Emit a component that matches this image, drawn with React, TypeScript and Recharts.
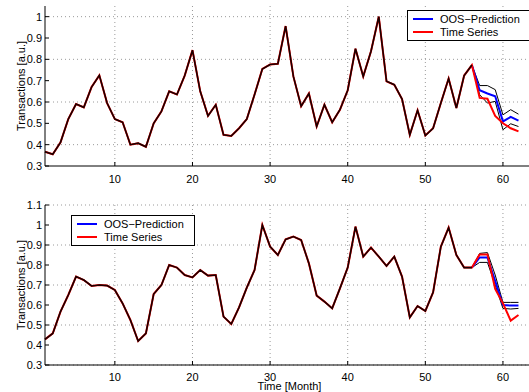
import { CartesianGrid, Legend, Line, LineChart, XAxis, YAxis } from "recharts";

const months = [
	1, 2, 3, 4, 5, 6, 7, 8, 9, 10, 11, 12, 13, 14, 15, 16, 17, 18, 19, 20, 21,
	22, 23, 24, 25, 26, 27, 28, 29, 30, 31, 32, 33, 34, 35, 36, 37, 38, 39, 40,
	41, 42, 43, 44, 45, 46, 47, 48, 49, 50, 51, 52, 53, 54, 55, 56, 57, 58, 59,
	60, 61, 62,
];
const predMonths = [56, 57, 58, 59, 60, 61, 62];
const lastFitMonth = 56;

const xTicks = [10, 20, 30, 40, 50, 60];
const topYTicks = [0.3, 0.4, 0.5, 0.6, 0.7, 0.8, 0.9, 1];
const bottomYTicks = [0.3, 0.4, 0.5, 0.6, 0.7, 0.8, 0.9, 1, 1.1];

// upper panel
const topSeries = [
	0.367, 0.355, 0.411, 0.52, 0.59, 0.575, 0.67, 0.725, 0.595, 0.52, 0.505,
	0.4, 0.407, 0.39, 0.5, 0.556, 0.65, 0.635, 0.724, 0.843, 0.65, 0.535, 0.587,
	0.446, 0.441, 0.477, 0.52, 0.635, 0.755, 0.776, 0.779, 0.956, 0.72, 0.58,
	0.64, 0.485, 0.587, 0.505, 0.564, 0.655, 0.85, 0.72, 0.838, 1.0, 0.697,
	0.681, 0.614, 0.446, 0.561, 0.443, 0.477, 0.595, 0.71, 0.572, 0.724, 0.773,
	0.619, 0.615, 0.535, 0.5, 0.477, 0.462,
];
const topPrediction = [0.773, 0.655, 0.64, 0.627, 0.509, 0.53, 0.513];
const topUpper = [0.773, 0.677, 0.677, 0.658, 0.54, 0.564, 0.543];
const topLower = [0.773, 0.634, 0.595, 0.603, 0.47, 0.498, 0.485];

// lower panel
const bottomSeries = [
	0.428, 0.458, 0.567, 0.65, 0.742, 0.725, 0.695, 0.7, 0.697, 0.675, 0.608,
	0.525, 0.42, 0.458, 0.655, 0.7, 0.8, 0.787, 0.75, 0.738, 0.775, 0.747, 0.75,
	0.542, 0.505, 0.588, 0.687, 0.775, 1.0, 0.892, 0.85, 0.928, 0.942, 0.925,
	0.808, 0.647, 0.617, 0.583, 0.683, 0.787, 0.992, 0.842, 0.887, 0.842, 0.795,
	0.842, 0.742, 0.538, 0.595, 0.57, 0.663, 0.892, 0.987, 0.85, 0.787, 0.787,
	0.853, 0.853, 0.68, 0.608, 0.522, 0.55,
];
const bottomPrediction = [0.787, 0.838, 0.838, 0.72, 0.6, 0.597, 0.597];
const bottomUpper = [0.787, 0.858, 0.862, 0.75, 0.613, 0.613, 0.613];
const bottomLower = [0.787, 0.813, 0.813, 0.7, 0.583, 0.58, 0.583];

const FONT = '"Liberation Sans", Arial, Helvetica, sans-serif';

function buildRows(
	series: number[],
	pred: number[],
	upper: number[],
	lower: number[],
) {
	return months.map((month, i) => {
		const j = predMonths.indexOf(month);
		return {
			month,
			series: series[i],
			fit: month <= lastFitMonth ? series[i] : null,
			pred: j >= 0 ? pred[j] : null,
			upper: j >= 0 ? upper[j] : null,
			lower: j >= 0 ? lower[j] : null,
		};
	});
}

const legendItems = [
	{ label: "OOS\u2212Prediction", color: "#0000ff" },
	{ label: "Time Series", color: "#ff0000" },
];

function LegendBox() {
	return (
		<svg width={124} height={31} style={{ display: "block" }}>
			<rect
				x={0.5}
				y={0.5}
				width={123}
				height={30}
				fill="#fff"
				stroke="#000"
			/>
			{legendItems.map((item, i) => (
				<g key={item.label}>
					<line
						x1={6}
						x2={26}
						y1={9 + i * 13}
						y2={9 + i * 13}
						stroke={item.color}
						strokeWidth={2}
					/>
					<text
						x={33}
						y={9 + i * 13}
						dominantBaseline="central"
						fontSize={11}
						fontFamily={FONT}
						fill="#000"
					>
						{item.label}
					</text>
				</g>
			))}
		</svg>
	);
}

interface PanelProps {
	rows: ReturnType<typeof buildRows>;
	height: number;
	marginTop: number;
	xAxisHeight: number;
	xTickMargin: number;
	yDomain: [number, number];
	yTicks: number[];
	legendLeft: number;
	legendTop: number;
	xLabel?: string;
}

function Panel({
	rows,
	height,
	marginTop,
	xAxisHeight,
	xTickMargin,
	yDomain,
	yTicks,
	legendLeft,
	legendTop,
	xLabel,
}: PanelProps) {
	const tick = { fill: "#000", fontSize: 11, fontFamily: FONT };
	return (
		<LineChart
			width={545}
			height={height}
			data={rows}
			margin={{ top: marginTop, right: 11, left: 0, bottom: 0 }}
		>
			<CartesianGrid
				stroke="#9a9a9a"
				strokeDasharray="1 3"
				horizontalValues={yTicks}
				verticalValues={xTicks}
			/>
			<XAxis
				dataKey="month"
				type="number"
				domain={[1, 64]}
				ticks={xTicks}
				height={xAxisHeight}
				tick={tick}
				tickSize={-4}
				tickMargin={xTickMargin}
				stroke="#000"
				label={
					xLabel
						? {
								content: ({ viewBox }: any) => (
									<text
										x={viewBox.x + viewBox.width / 2}
										y={viewBox.y + 25}
										textAnchor="middle"
										fontSize={11}
										fontFamily={FONT}
										fill="#000"
									>
										{xLabel}
									</text>
								),
							}
						: undefined
				}
			/>
			<XAxis
				xAxisId="top"
				dataKey="month"
				type="number"
				domain={[1, 64]}
				orientation="top"
				height={0}
				tick={false}
				tickLine={false}
				stroke="#000"
			/>
			<YAxis
				type="number"
				domain={yDomain}
				ticks={yTicks}
				width={45}
				tick={tick}
				tickSize={-4}
				tickMargin={7}
				stroke="#000"
				allowDataOverflow
				label={{
					content: ({ viewBox }: any) => {
						const cy = viewBox.y + viewBox.height / 2;
						return (
							<text
								x={21}
								y={cy}
								transform={`rotate(-90, 21, ${cy})`}
								textAnchor="middle"
								dominantBaseline="central"
								fontSize={11}
								fontFamily={FONT}
								fill="#000"
							>
								Transactions [a.u.]
							</text>
						);
					},
				}}
			/>
			<Legend
				layout="vertical"
				align="center"
				verticalAlign="middle"
				content={() => <LegendBox />}
				wrapperStyle={{
					position: "absolute",
					left: legendLeft,
					top: legendTop,
					width: 124,
					height: 31,
				}}
			/>
			<Line
				dataKey="upper"
				stroke="#000"
				strokeWidth={1}
				dot={false}
				legendType="none"
				isAnimationActive={false}
			/>
			<Line
				dataKey="lower"
				stroke="#000"
				strokeWidth={1}
				dot={false}
				legendType="none"
				isAnimationActive={false}
			/>
			<Line
				dataKey="pred"
				name="OOS-Prediction"
				stroke="#0000ff"
				strokeWidth={2}
				dot={false}
				isAnimationActive={false}
			/>
			<Line
				dataKey="series"
				name="Time Series"
				stroke="#ff0000"
				strokeWidth={2}
				dot={false}
				isAnimationActive={false}
			/>
			<Line
				dataKey="fit"
				stroke="#1a0000"
				strokeWidth={1.6}
				dot={false}
				legendType="none"
				isAnimationActive={false}
			/>
		</LineChart>
	);
}

export default function App() {
	const topRows = buildRows(topSeries, topPrediction, topUpper, topLower);
	const bottomRows = buildRows(
		bottomSeries,
		bottomPrediction,
		bottomUpper,
		bottomLower,
	);
	return (
		<div
			style={{
				position: "absolute",
				left: 0,
				top: 0,
				width: 529,
				height: 392,
				overflow: "hidden",
				background: "#fff",
				fontFamily: FONT,
			}}
		>
			<div style={{ position: "absolute", left: 0, top: 0 }}>
				<Panel
					rows={topRows}
					height={190}
					marginTop={6}
					xAxisHeight={24}
					xTickMargin={13}
					yDomain={[0.3, 1.05]}
					yTicks={topYTicks}
					legendLeft={407}
					legendTop={10}
				/>
			</div>
			<div style={{ position: "absolute", left: 0, top: 190 }}>
				<Panel
					rows={bottomRows}
					height={202}
					marginTop={15}
					xAxisHeight={27}
					xTickMargin={12}
					yDomain={[0.3, 1.1]}
					yTicks={bottomYTicks}
					legendLeft={71}
					legendTop={25}
					xLabel="Time [Month]"
				/>
			</div>
		</div>
	);
}
